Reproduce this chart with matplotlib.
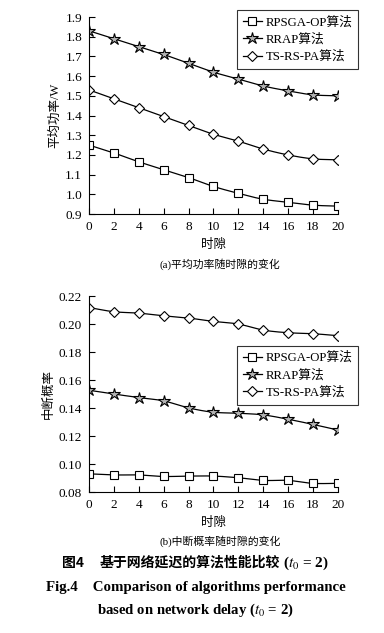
import numpy as np
import matplotlib
matplotlib.use('Agg')
import matplotlib.pyplot as plt

plt.rcParams['font.family'] = ['Liberation Serif', 'Noto Sans CJK SC']
plt.rcParams['mathtext.fontset'] = 'stix'

# time slots
slots = [0, 2, 4, 6, 8, 10, 12, 14, 16, 18, 20]

# (a) average power / W
power_rpsga = [1.25, 1.21, 1.165, 1.125, 1.085, 1.04, 1.005, 0.975, 0.96, 0.945, 0.94]
power_rrap = [1.83, 1.79, 1.75, 1.71, 1.665, 1.62, 1.585, 1.55, 1.525, 1.505, 1.50]
power_tsrs = [1.53, 1.485, 1.44, 1.395, 1.35, 1.305, 1.27, 1.23, 1.20, 1.18, 1.175]

# (b) outage probability
out_rpsga = [0.093, 0.0922, 0.0922, 0.0911, 0.0914, 0.0914, 0.0902, 0.0883, 0.0883, 0.0862, 0.0862]
out_rrap = [0.1527, 0.150, 0.1475, 0.1451, 0.1401, 0.137, 0.1363, 0.1351, 0.132, 0.1283, 0.1243]
out_tsrs = [0.2118, 0.2088, 0.2078, 0.2059, 0.2043, 0.2019, 0.200, 0.1957, 0.1938, 0.1931, 0.1917]

names = ['RPSGA-OP算法', 'RRAP算法', 'TS-RS-PA算法']
markers = ['s', '*', 'D']
msizes = [6, 9, 5.5]
mfills = ['white', '0.7', 'white']


def smooth(x, y, n=16):
    # catmull-rom curve through the points, only for drawing the line
    x = np.asarray(x, float)
    y = np.asarray(y, float)
    xp = np.concatenate([[2 * x[0] - x[1]], x, [2 * x[-1] - x[-2]]])
    yp = np.concatenate([[2 * y[0] - y[1]], y, [2 * y[-1] - y[-2]]])
    t = np.linspace(0, 1, n, endpoint=False)
    xs, ys = [], []
    for i in range(1, len(x)):
        for arr, out in ((xp, xs), (yp, ys)):
            p0, p1, p2, p3 = arr[i - 1], arr[i], arr[i + 1], arr[i + 2]
            out.extend(0.5 * (2 * p1 + (-p0 + p2) * t + (2 * p0 - 5 * p1 + 4 * p2 - p3) * t ** 2
                              + (-p0 + 3 * p1 - 3 * p2 + p3) * t ** 3))
    xs.append(x[-1])
    ys.append(y[-1])
    return xs, ys


def draw(ax, series, ylim, yticks, yfmt, ylabel, leg_anchor):
    for vals, name, m, ms, fc in zip(series, names, markers, msizes, mfills):
        sx, sy = smooth(slots, vals)
        ax.plot(sx, sy, color='black', lw=0.9)
        ax.plot(slots, vals, ls='none', marker=m, ms=ms, mfc=fc, mec='black', mew=0.8)
        ax.plot([], [], color='black', lw=0.9, marker=m, ms=ms, mfc=fc, mec='black',
                mew=0.8, label=name)
    ax.set_xlim(0, 20)
    ax.set_ylim(*ylim)
    ax.set_xticks(slots)
    ax.set_yticks(yticks)
    ax.set_yticklabels([yfmt % v for v in yticks])
    ax.spines['top'].set_visible(False)
    ax.spines['right'].set_visible(False)
    ax.tick_params(direction='in', length=4, width=0.8, labelsize=9.5, pad=5)
    ax.set_xlabel('时隙', fontsize=9, labelpad=4.5)
    ax.set_ylabel(ylabel, fontsize=9, labelpad=3)
    leg = ax.legend(loc='upper left', bbox_to_anchor=leg_anchor, bbox_transform=fig.transFigure,
                    fontsize=9.2, handlelength=1.5, handletextpad=0.3, labelspacing=0.4,
                    borderpad=0.45, frameon=True, fancybox=False, edgecolor='black',
                    borderaxespad=0)
    leg.get_frame().set_linewidth(0.8)


fig = plt.figure(figsize=(3.84, 6.33), dpi=100)
ax1 = fig.add_axes([0.2318, 0.6619, 0.648, 0.3112])
ax2 = fig.add_axes([0.2318, 0.2227, 0.648, 0.3096])

draw(ax1, [power_rpsga, power_rrap, power_tsrs], (0.9, 1.9),
     np.round(np.arange(0.9, 1.91, 0.1), 1), '%.1f', '平均功率/W', (0.617, 0.984))
draw(ax2, [out_rpsga, out_rrap, out_tsrs], (0.08, 0.22),
     np.round(np.arange(0.08, 0.221, 0.02), 2), '%.2f', '中断概率', (0.617, 0.4534))

fig.text(0.573, 1 - 264 / 633, '(a)平均功率随时隙的变化', ha='center', va='center', fontsize=7.8)
fig.text(0.573, 1 - 541 / 633, '(b)中断概率随时隙的变化', ha='center', va='center', fontsize=7.8)

cap_y = 1 - 563 / 633
fig.text(62 / 384, cap_y, '图4', ha='left', va='center', fontsize=10, fontweight='bold',
         family=['Noto Sans CJK SC'])
fig.text(100 / 384, cap_y, '基于网络延迟的算法性能比较', ha='left', va='center', fontsize=10,
         fontweight='bold', family=['Noto Sans CJK SC'])
fig.text(283 / 384, cap_y, '($t_0$ = 2)', ha='left', va='center', fontsize=11,
         fontweight='bold')
fig.text(0.51, 1 - 587 / 633, 'Fig.4    Comparison of algorithms performance', ha='center',
         va='center', fontsize=10.7, fontweight='bold')
fig.text(0.51, 1 - 610 / 633, 'based on network delay ($t_0$ = 2)', ha='center',
         va='center', fontsize=10.6, fontweight='bold')

fig.savefig('out.png', dpi=100)
